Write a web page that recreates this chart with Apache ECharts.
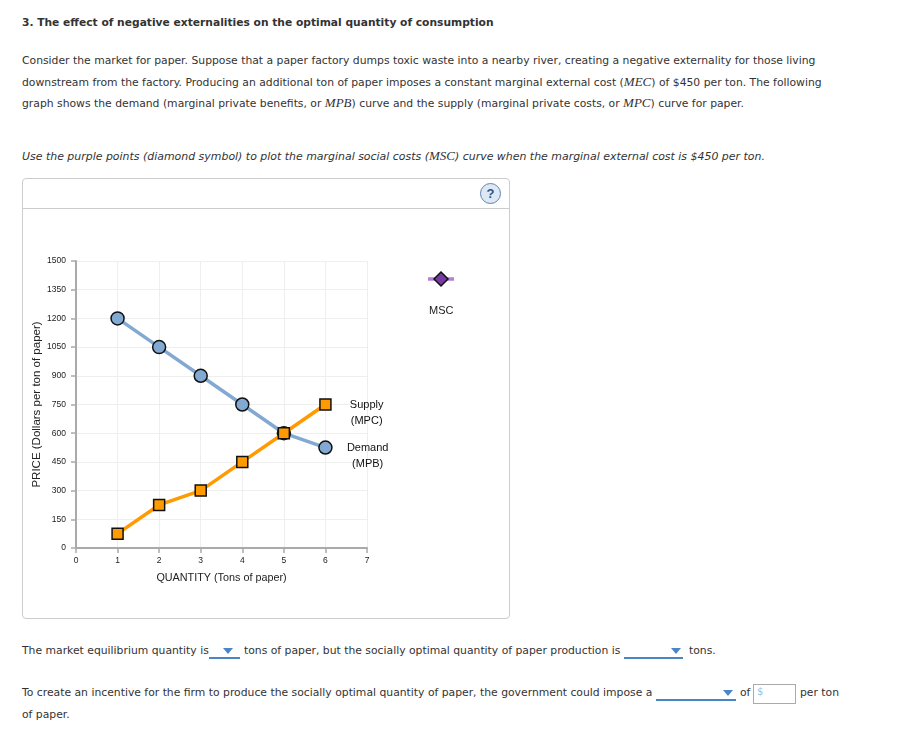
<!DOCTYPE html>
<html>
<head>
<meta charset="utf-8">
<script src="https://cdn.jsdelivr.net/npm/echarts@6/dist/echarts.min.js"></script>
<style>
  body { margin: 0; width: 898px; height: 737px; background: #fff; position: relative; font-family: "DejaVu Sans", Verdana, sans-serif; color: #333; }
  .t { position: absolute; white-space: nowrap; font-size: 10.8px; line-height: 14px; }
  .m { font-family: "Liberation Serif", serif; font-style: italic; font-size: 13px; }
  .dd { position: absolute; border-bottom: 2px solid #4a86c5; height: 12px; }
  .tri { position: absolute; width: 0; height: 0; border-left: 5px solid transparent; border-right: 5px solid transparent; border-top: 6px solid #4a86c5; }
  #panel { position: absolute; left: 22px; top: 178px; width: 486px; height: 439px; border: 1px solid #ccc; border-radius: 4px; }
  #head { position: absolute; left: 0; top: 0; width: 486px; height: 29px; border-bottom: 1px solid #ccc; }
  #help { position: absolute; left: 457px; top: 4px; width: 19px; height: 19px; border-radius: 50%; border: 1px solid #5f84ad; background: #dde8f4; color: #2e5685; font: bold 13px/19px "Liberation Sans", Arial, sans-serif; text-align: center; }
  #chart { position: absolute; left: 0; top: 30px; width: 486px; height: 409px; }
  #box { position: absolute; left: 753px; top: 684px; width: 41px; height: 18px; border: 1px solid #aaa; }
</style>
</head>
<body>
<div class="t" style="left:22px;top:16px;font-weight:bold;font-size:10.7px;">3. The effect of negative externalities on the optimal quantity of consumption</div>

<div class="t" style="left:22px;top:54px;">Consider the market for paper. Suppose that a paper factory dumps toxic waste into a nearby river, creating a negative externality for those living</div>
<div class="t" style="left:22px;top:75px;">downstream from the factory. Producing an additional ton of paper imposes a constant marginal external cost (<span class="m">MEC</span>) of $450 per ton. The following</div>
<div class="t" style="left:22px;top:96px;">graph shows the demand (marginal private benefits, or <span class="m">MPB</span>) curve and the supply (marginal private costs, or <span class="m">MPC</span>) curve for paper.</div>

<div class="t" style="left:22px;top:149px;font-style:italic;font-size:10.95px;">Use the purple points (diamond symbol) to plot the marginal social costs (<span class="m">MSC</span>) curve when the marginal external cost is $450 per ton.</div>

<div id="panel">
  <div id="head"><div id="help">?</div></div>
  <div id="chart"></div>
</div>

<div class="t" style="left:22px;top:644px;">The market equilibrium quantity is</div>
<div class="dd" style="left:209px;top:645px;width:31px;"></div>
<div class="tri" style="left:223px;top:648px;"></div>
<div class="t" style="left:244px;top:644px;">tons of paper, but the socially optimal quantity of paper production is</div>
<div class="dd" style="left:624px;top:645px;width:59px;"></div>
<div class="tri" style="left:671px;top:648px;"></div>
<div class="t" style="left:689px;top:644px;">tons.</div>

<div class="t" style="left:22px;top:686px;">To create an incentive for the firm to produce the socially optimal quantity of paper, the government could impose a</div>
<div class="dd" style="left:656px;top:687px;width:80px;"></div>
<div class="tri" style="left:723px;top:690px;"></div>
<div class="t" style="left:740px;top:686px;">of</div>
<div id="box"><span style="position:absolute;left:3px;top:1px;font-size:10px;color:#9cc3e6;">$</span></div>
<div class="t" style="left:800px;top:686px;">per ton</div>
<div class="t" style="left:22px;top:708px;">of paper.</div>

<script>
// data
const quantities = [1, 2, 3, 4, 5, 6];
const demandPrices = [1200, 1050, 900, 750, 600, 525];
const supplyPrices = [75, 225, 300, 450, 600, 750];
const demandLabel = 'Demand\n(MPB)';
const supplyLabel = 'Supply\n(MPC)';
const mscLabel = 'MSC';

const chart = echarts.init(document.getElementById('chart'));

function buildData(prices, labelText) {
  return quantities.map(function (q, i) {
    const item = { value: [q, prices[i]] };
    if (i === quantities.length - 1) {
      item.label = {
        show: true,
        position: 'right',
        distance: 0,
        align: 'center',
        verticalAlign: 'top',
        offset: [35, -8],
        lineHeight: 16,
        fontSize: 11,
        color: '#111',
        fontFamily: 'Liberation Sans, Arial',
        formatter: labelText
      };
    }
    return item;
  });
}

const labelFont = { fontFamily: 'Liberation Sans, Arial', color: '#222' };

chart.setOption({
  animation: false,
  grid: { left: 53, top: 52, width: 291, height: 287, containLabel: false, outerBoundsMode: 'none' },
  xAxis: {
    type: 'value',
    min: 0,
    max: 7,
    interval: 1,
    name: 'QUANTITY (Tons of paper)',
    nameLocation: 'middle',
    nameGap: 25,
    nameMoveOverlap: false,
    nameTextStyle: Object.assign({ fontSize: 10.8, verticalAlign: 'top' }, labelFont),
    axisLine: { onZero: false, lineStyle: { color: '#aaa', width: 2 } },
    axisTick: { length: 5, lineStyle: { color: '#aaa', width: 1.5 } },
    axisLabel: Object.assign({ fontSize: 8.5, margin: 8 }, labelFont),
    splitLine: { show: true, lineStyle: { color: '#eee', width: 1 } }
  },
  yAxis: {
    type: 'value',
    min: 0,
    max: 1500,
    interval: 150,
    name: 'PRICE (Dollars per ton of paper)',
    nameLocation: 'middle',
    nameGap: 39,
    nameRotate: 90,
    nameMoveOverlap: false,
    nameTextStyle: Object.assign({ fontSize: 11.5, verticalAlign: 'middle' }, labelFont),
    axisLine: { show: true, lineStyle: { color: '#aaa', width: 2 } },
    axisTick: { show: true, length: 5, lineStyle: { color: '#aaa', width: 1.5 } },
    axisLabel: Object.assign({ fontSize: 8.5, margin: 10, formatter: function (v) { return String(v); } }, labelFont),
    splitLine: { show: true, lineStyle: { color: '#eee', width: 1 } }
  },
  series: [
    {
      name: 'Demand',
      type: 'line',
      data: buildData(demandPrices, demandLabel),
      symbol: 'circle',
      symbolSize: 13,
      lineStyle: { color: '#82a9d2', width: 3.5 },
      itemStyle: { color: '#82a9d2', borderColor: '#111', borderWidth: 1.5 },
      z: 2
    },
    {
      name: 'Supply',
      type: 'line',
      data: buildData(supplyPrices, supplyLabel),
      symbol: 'rect',
      symbolSize: 11,
      lineStyle: { color: '#ff9a00', width: 3.5 },
      itemStyle: { color: '#ff9a00', borderColor: '#111', borderWidth: 1.5 },
      z: 3
    }
  ],
  graphic: [
    { type: 'line', shape: { x1: 405, y1: 70, x2: 431, y2: 70 }, style: { stroke: '#b57fd8', lineWidth: 3.5 } },
    { type: 'polygon', shape: { points: [[418, 63], [425, 70], [418, 77], [411, 70]] }, style: { fill: '#7a3aa5', stroke: '#111', lineWidth: 1.5 } },
    { type: 'text', left: 406, top: 96, style: { text: mscLabel, fontSize: 11, fill: '#222', fontFamily: 'Liberation Sans, Arial' } }
  ]
});
</script>
</body>
</html>
